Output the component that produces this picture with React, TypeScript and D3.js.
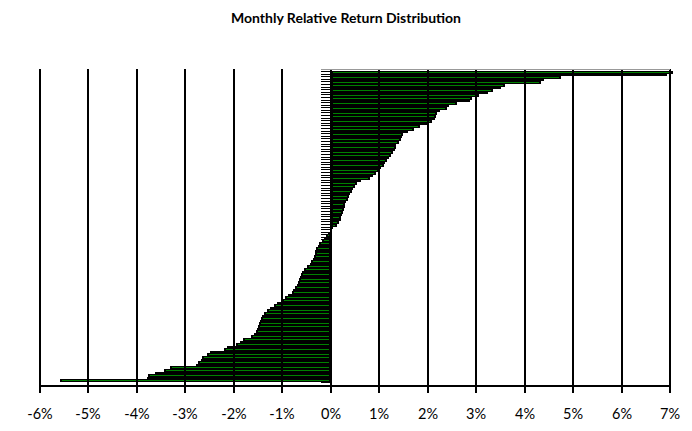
import React, { useEffect } from 'react'
import * as d3 from 'd3'

// monthly relative returns (%), sorted high -> low, top row first
const returns = [
  7.3, 6.93, 4.75, 4.4, 4.33, 3.6, 3.52, 3.35, 3.25, 3.05,
  2.92, 2.88, 2.6, 2.45, 2.4, 2.25, 2.2, 2.18, 2.15, 2.08,
  2.0, 1.84, 1.72, 1.6, 1.5, 1.46, 1.45, 1.4, 1.35, 1.34,
  1.33, 1.28, 1.24, 1.2, 1.16, 1.12, 1.09, 1.04, 1.0, 0.93,
  0.87, 0.8, 0.62, 0.55, 0.5, 0.46, 0.43, 0.4, 0.38, 0.35,
  0.32, 0.3, 0.29, 0.27, 0.25, 0.23, 0.22, 0.21, 0.18, 0.13,
  0.05, 0.02, -0.05, -0.1, -0.14, -0.19, -0.24, -0.27, -0.3, -0.32,
  -0.33, -0.35, -0.37, -0.4, -0.42, -0.5, -0.56, -0.59, -0.61, -0.64,
  -0.65, -0.67, -0.7, -0.73, -0.77, -0.81, -0.88, -0.94, -1.0, -1.1,
  -1.18, -1.26, -1.32, -1.37, -1.41, -1.43, -1.46, -1.48, -1.5, -1.52,
  -1.55, -1.58, -1.65, -1.82, -1.88, -1.95, -2.15, -2.2, -2.5, -2.55,
  -2.65, -2.68, -2.74, -2.78, -3.32, -3.45, -3.62, -3.77, -3.8, -5.59
]
const ranks = returns.map((_, i) => i)
const xTicks = [-6, -5, -4, -3, -2, -1, 0, 1, 2, 3, 4, 5, 6, 7]

const W = 692
const H = 431
const plotTop = 69
const axisY = 386
const font = 'Lato, "Open Sans", sans-serif'

export default function App () {
  useEffect(() => {
    document.body.style.margin = '0'
  }, [])

  const x = d3.scaleLinear().domain([-6, 7]).range([40, 670])
  const y = d3.scaleBand<number>().domain(ranks).range([71, 382])
  const clipRight = x(7) + 2.5

  const bars = returns.map((v, i) => {
    const y0 = Math.round(y(i)!)
    const y1 = Math.round(y(i)! + y.bandwidth())
    const xa = Math.round(x(Math.min(0, v)))
    const xb = Math.round(Math.min(clipRight, x(Math.max(0, v))))
    return { v, i, y0, y1, xa, xb }
  })

  const boundaries = ranks.map(i => y(i)!).concat([y(ranks.length - 1)! + y.bandwidth()])

  return (
    <svg width={W} height={H} style={{ position: 'absolute', left: 0, top: 0, background: '#fff' }}>
      <text x={346} y={23} textAnchor='middle' fontFamily={font} fontWeight='bold' fontSize={14} fill='#000'>
        Monthly Relative Return Distribution
      </text>

      {/* bars: black block with a thin green core */}
      <g shapeRendering='crispEdges'>
        {bars.map(b => (
          <g key={b.i}>
            <rect x={b.xa} y={b.y0} width={b.xb - b.xa} height={b.y1 - b.y0} fill='#000' />
            {b.y1 - b.y0 >= 3 && b.xb - b.xa > 4 &&
              <rect x={b.xa + 2} y={b.y0 + 1} width={b.xb - b.xa - 4} height={b.y1 - b.y0 - 2} fill='#008000' />}
          </g>
        ))}
      </g>

      {/* vertical gridlines */}
      <g>
        {xTicks.map(t => (
          <line key={t} x1={Math.round(x(t))} x2={Math.round(x(t))} y1={plotTop} y2={axisY}
            stroke='#000' strokeWidth={2} />
        ))}
      </g>

      <line x1={321} x2={x(7)} y1={plotTop + 0.5} y2={plotTop + 0.5} stroke='#999' strokeWidth={1} />

      {/* category axis ticks */}
      <g shapeRendering='crispEdges'>
        {boundaries.map((b, i) => (
          <line key={i} x1={321} x2={331} y1={Math.round(b) + 0.5} y2={Math.round(b) + 0.5} stroke='#000' strokeWidth={1} />
        ))}
      </g>

      {/* value axis */}
      <line x1={x(-6) - 1} x2={x(7) + 1} y1={axisY} y2={axisY} stroke='#000' strokeWidth={2} />
      {xTicks.map(t => (
        <g key={t} transform={`translate(${Math.round(x(t))},0)`}>
          <line y1={axisY} y2={axisY + 7} stroke='#000' strokeWidth={2} />
          <text y={419} textAnchor='middle' fontFamily={font} fontSize={14.5} fill='#000'>{`${t}%`}</text>
        </g>
      ))}
    </svg>
  )
}
